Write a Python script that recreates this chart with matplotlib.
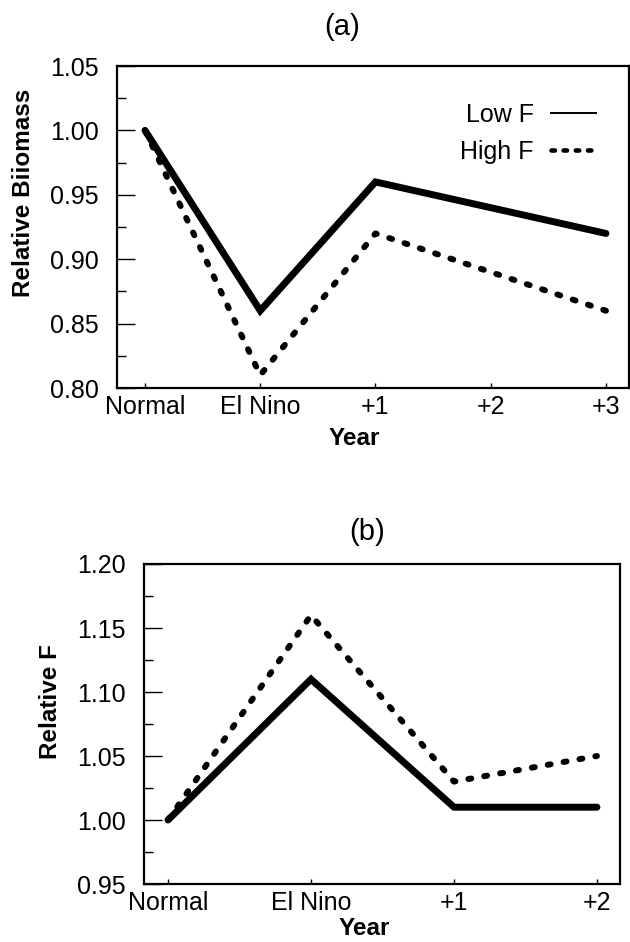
import numpy as np
import matplotlib
matplotlib.use("Agg")
import matplotlib.pyplot as plt
from matplotlib.lines import Line2D
from matplotlib.ticker import MultipleLocator, FormatStrFormatter

plt.rcParams['font.family'] = ['Liberation Sans', 'DejaVu Sans']

# panel (a): biomass relative to the normal year
years_a = ['Normal', 'El Nino', '+1', '+2', '+3']
biomass_low = [1.00, 0.86, 0.96, 0.94, 0.92]
biomass_high = [1.00, 0.81, 0.92, 0.89, 0.86]

# panel (b): fishing mortality relative to the normal year
years_b = ['Normal', 'El Nino', '+1', '+2']
f_low = [1.00, 1.11, 1.01, 1.01]
f_high = [1.00, 1.16, 1.03, 1.05]

W, H = 630, 942
fig = plt.figure(figsize=(W / 100, H / 100), dpi=100)

def px_axes(left, top, right, bottom):
    return fig.add_axes([left / W, 1 - bottom / H, (right - left) / W, (bottom - top) / H])

TICK_FS = 18
LAB_FS = 17.5
DOT = (0, (0.5, 2.2))

def style(ax, ylo, yhi):
    ax.set_ylim(ylo, yhi)
    ax.yaxis.set_major_locator(MultipleLocator(0.05))
    ax.yaxis.set_minor_locator(MultipleLocator(0.025))
    ax.yaxis.set_major_formatter(FormatStrFormatter('%.2f'))
    ax.tick_params(axis='y', which='major', direction='in', length=13, width=1.0,
                   pad=13, labelsize=TICK_FS)
    ax.tick_params(axis='y', which='minor', direction='in', length=6.5, width=1.0)
    ax.tick_params(axis='x', which='major', direction='in', length=3.5, width=1.0,
                   pad=5, labelsize=TICK_FS)
    for s in ax.spines.values():
        s.set_linewidth(1.6)

def draw(ax, low, high):
    x = np.arange(len(low))
    ax.plot(x, high, color='black', lw=4.3, linestyle=DOT, dash_capstyle='round')
    ax.plot(x, low, color='black', lw=5, solid_capstyle='round', solid_joinstyle='miter')

# (a)
ax1 = px_axes(117, 66, 629, 388)
draw(ax1, biomass_low, biomass_high)
style(ax1, 0.80, 1.05)
ax1.set_xticks(np.arange(len(years_a)))
ax1.set_xticklabels(years_a)
ax1.set_xlim(-0.243, 4.20)
ax1.set_ylabel('Relative Biiomass', fontsize=LAB_FS, fontweight='bold', ha='center', va='center')
ax1.yaxis.set_label_coords(-0.182, 0.606)
ax1.set_xlabel('Year', fontsize=LAB_FS, fontweight='bold', va='center')
ax1.xaxis.set_label_coords(0.464, -0.158)
ax1.text(0.439, 1.121, '(a)', transform=ax1.transAxes, fontsize=21, ha='center', va='center')

handles = [
    Line2D([], [], color='black', lw=1.4),
    Line2D([], [], color='black', lw=3.3, linestyle=(0, (0.75, 1.9)), dash_capstyle='round'),
]
ax1.legend(handles, ['Low F', 'High F'], loc='upper right', bbox_to_anchor=(0.936, 0.885),
           frameon=False, markerfirst=False, fontsize=TICK_FS, handlelength=1.8,
           handletextpad=0.7, labelspacing=0.5, borderpad=0, borderaxespad=0)

# (b)
ax2 = px_axes(144, 564, 620, 884)
draw(ax2, f_low, f_high)
style(ax2, 0.95, 1.20)
ax2.set_xticks(np.arange(len(years_b)))
ax2.set_xticklabels(years_b)
ax2.set_xlim(-0.168, 3.161)
ax2.set_ylabel('Relative F', fontsize=LAB_FS, fontweight='bold', ha='center', va='center')
ax2.yaxis.set_label_coords(-0.197, 0.569)
ax2.set_xlabel('Year', fontsize=LAB_FS, fontweight='bold', va='center')
ax2.xaxis.set_label_coords(0.462, -0.14)
ax2.text(0.468, 1.10, '(b)', transform=ax2.transAxes, fontsize=21, ha='center', va='center')

fig.savefig('out.png', dpi=100)
